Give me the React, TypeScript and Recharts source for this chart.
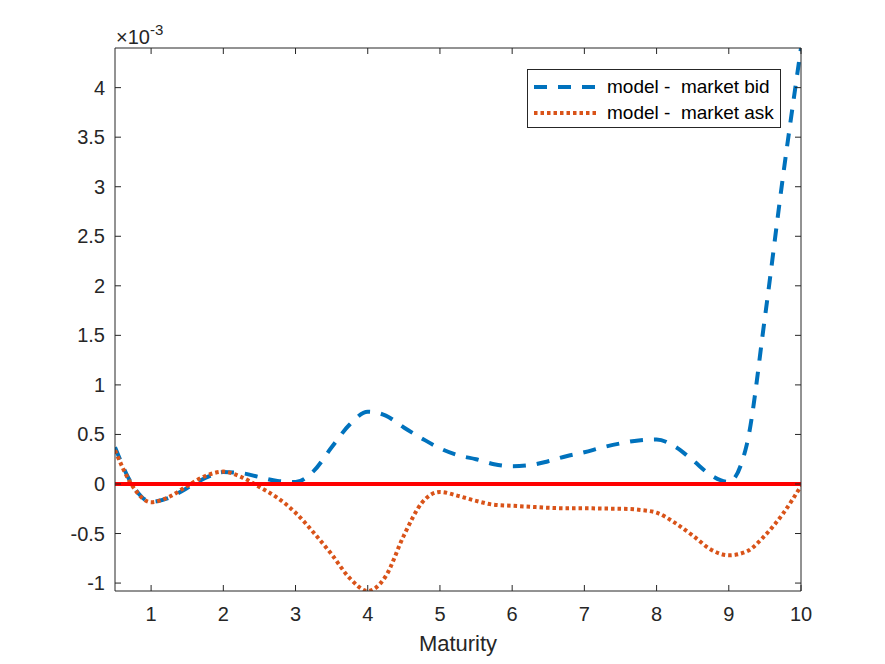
import React from 'react';
import { LineChart, Line, XAxis, YAxis, ReferenceLine, Legend } from 'recharts';

// values in units of 1e-3
const maturity = [0.5, 0.75, 1, 1.25, 1.5, 1.75, 2, 2.25, 2.5, 2.75, 3, 3.25, 3.5, 3.75, 4, 4.25, 4.5, 4.75, 5, 5.25, 5.5, 5.75, 6, 6.25, 6.5, 6.75, 7, 7.25, 7.5, 7.75, 8, 8.25, 8.5, 8.75, 9, 9.25, 9.5, 9.75, 10];
const bidDiff = [0.37, -0.02, -0.18, -0.14, -0.04, 0.06, 0.12, 0.11, 0.07, 0.03, 0.02, 0.13, 0.37, 0.6, 0.73, 0.69, 0.57, 0.46, 0.36, 0.29, 0.25, 0.2, 0.18, 0.19, 0.23, 0.28, 0.32, 0.37, 0.41, 0.44, 0.45, 0.38, 0.24, 0.09, 0.02, 0.4, 1.68, 3.1, 4.4];
const askDiff = [0.34, -0.03, -0.185, -0.13, -0.02, 0.08, 0.125, 0.07, -0.03, -0.14, -0.29, -0.49, -0.71, -0.95, -1.08, -0.93, -0.52, -0.19, -0.08, -0.12, -0.17, -0.21, -0.22, -0.23, -0.24, -0.245, -0.245, -0.248, -0.25, -0.26, -0.29, -0.39, -0.52, -0.66, -0.72, -0.68, -0.52, -0.3, -0.02];
const xTicks = [1, 2, 3, 4, 5, 6, 7, 8, 9, 10];
const yTicks = [-1, -0.5, 0, 0.5, 1, 1.5, 2, 2.5, 3, 3.5, 4];
const seriesNames = ['model -  market bid', 'model -  market ask'];
const xDomain = [0.5, 10];
const yDomain = [-1.08, 4.4];

const data = maturity.map((m, i) => ({ m, bid: bidDiff[i], ask: askDiff[i] }));

const AX = '#262626';
const FONT = '"Liberation Sans", Arial, Helvetica, sans-serif';
const TL = 6;
const BLUE = '#0072BD';
const ORANGE = '#D95319';

const LeftTick = (p: any) => (
  <g>
    <line x1={p.x} x2={p.x + TL} y1={p.y} y2={p.y} stroke={AX} strokeWidth={1} />
    <text x={p.x - 10} y={p.y} dy="0.35em" textAnchor="end" fontSize={20} fill={AX} fontFamily={FONT}>
      {String(p.payload.value)}
    </text>
  </g>
);
const RightTick = (p: any) => (
  <line x1={p.x} x2={p.x - TL} y1={p.y} y2={p.y} stroke={AX} strokeWidth={1} />
);
const BottomTick = (p: any) => (
  <g>
    <line x1={p.x} x2={p.x} y1={p.y} y2={p.y - TL} stroke={AX} strokeWidth={1} />
    <text x={p.x} y={p.y + 30} textAnchor="middle" fontSize={20} fill={AX} fontFamily={FONT}>
      {String(p.payload.value)}
    </text>
  </g>
);
const TopTick = (p: any) => (
  <line x1={p.x} x2={p.x} y1={p.y} y2={p.y + TL} stroke={AX} strokeWidth={1} />
);

const LegendBox = () => (
  <div
    style={{
      width: 252,
      height: 57,
      border: `1px solid ${AX}`,
      background: '#fff',
      boxSizing: 'content-box',
      fontFamily: FONT,
      fontSize: 19,
      color: '#000',
      position: 'relative',
    }}
  >
    {seriesNames.map((name, i) => (
      <div key={name} style={{ position: 'absolute', left: 0, top: i === 0 ? 4 : 30, height: 26, display: 'flex', alignItems: 'center' }}>
        <svg width={78} height={26} style={{ display: 'block' }}>
          <line
            x1={6}
            x2={70}
            y1={13}
            y2={13}
            stroke={i === 0 ? BLUE : ORANGE}
            strokeWidth={4}
            strokeDasharray={i === 0 ? '13 11' : '3.5 3'}
          />
        </svg>
        <span style={{ whiteSpace: 'pre', marginLeft: 1 }}>{name}</span>
      </div>
    ))}
  </div>
);

const ExpLabel = (p: any) => {
  const vb = p.viewBox || {};
  const x = (vb.x || 0) + (vb.width || 0) + 1;
  const y = (vb.y || 0) - 4;
  return (
    <text x={x} y={y} fontSize={20} fill={AX} fontFamily={FONT}>
      ×10<tspan dy={-9} fontSize={15}>-3</tspan>
    </text>
  );
};

export default function App() {
  return (
    <div style={{ position: 'absolute', left: 0, top: 0, width: 885, height: 664, background: '#fff' }}>
      <LineChart width={885} height={664} data={data} margin={{ top: 38, right: 74, bottom: 23, left: 55 }}>
        <XAxis
          dataKey="m"
          type="number"
          domain={xDomain}
          ticks={xTicks}
          allowDataOverflow
          height={50}
          tickSize={0}
          tickMargin={0}
          tick={<BottomTick />}
          tickLine={false}
          axisLine={{ stroke: AX, strokeWidth: 1 }}
          label={{ value: 'Maturity', position: 'insideBottom', offset: -10, fontSize: 22, fill: AX, fontFamily: FONT }}
        />
        <XAxis
          xAxisId="top"
          orientation="top"
          dataKey="m"
          type="number"
          domain={xDomain}
          ticks={xTicks}
          allowDataOverflow
          height={10}
          tickSize={0}
          tickMargin={0}
          tick={<TopTick />}
          tickLine={false}
          axisLine={{ stroke: AX, strokeWidth: 1 }}
        />
        <YAxis
          type="number"
          domain={yDomain}
          ticks={yTicks}
          allowDataOverflow
          width={60}
          tickSize={0}
          tickMargin={0}
          tick={<LeftTick />}
          tickLine={false}
          axisLine={{ stroke: AX, strokeWidth: 1 }}
          label={<ExpLabel />}
        />
        <YAxis
          yAxisId="right"
          orientation="right"
          type="number"
          domain={yDomain}
          ticks={yTicks}
          allowDataOverflow
          width={10}
          tickSize={0}
          tickMargin={0}
          tick={<RightTick />}
          tickLine={false}
          axisLine={{ stroke: AX, strokeWidth: 1 }}
        />
        <Line
          type="monotone"
          dataKey="bid"
          name={seriesNames[0]}
          stroke={BLUE}
          strokeWidth={4}
          strokeDasharray="13 11"
          dot={false}
          activeDot={false}
          isAnimationActive={false}
        />
        <Line
          type="monotone"
          dataKey="ask"
          name={seriesNames[1]}
          stroke={ORANGE}
          strokeWidth={4}
          strokeDasharray="3.5 3"
          dot={false}
          activeDot={false}
          isAnimationActive={false}
        />
        <ReferenceLine y={0} stroke="#FF0000" strokeWidth={4} />
        <Legend
          layout="vertical"
          align="center"
          verticalAlign="middle"
          content={<LegendBox />}
          wrapperStyle={{ position: 'absolute', left: 527, top: 69, width: 254, height: 59 }}
        />
      </LineChart>
    </div>
  );
}
